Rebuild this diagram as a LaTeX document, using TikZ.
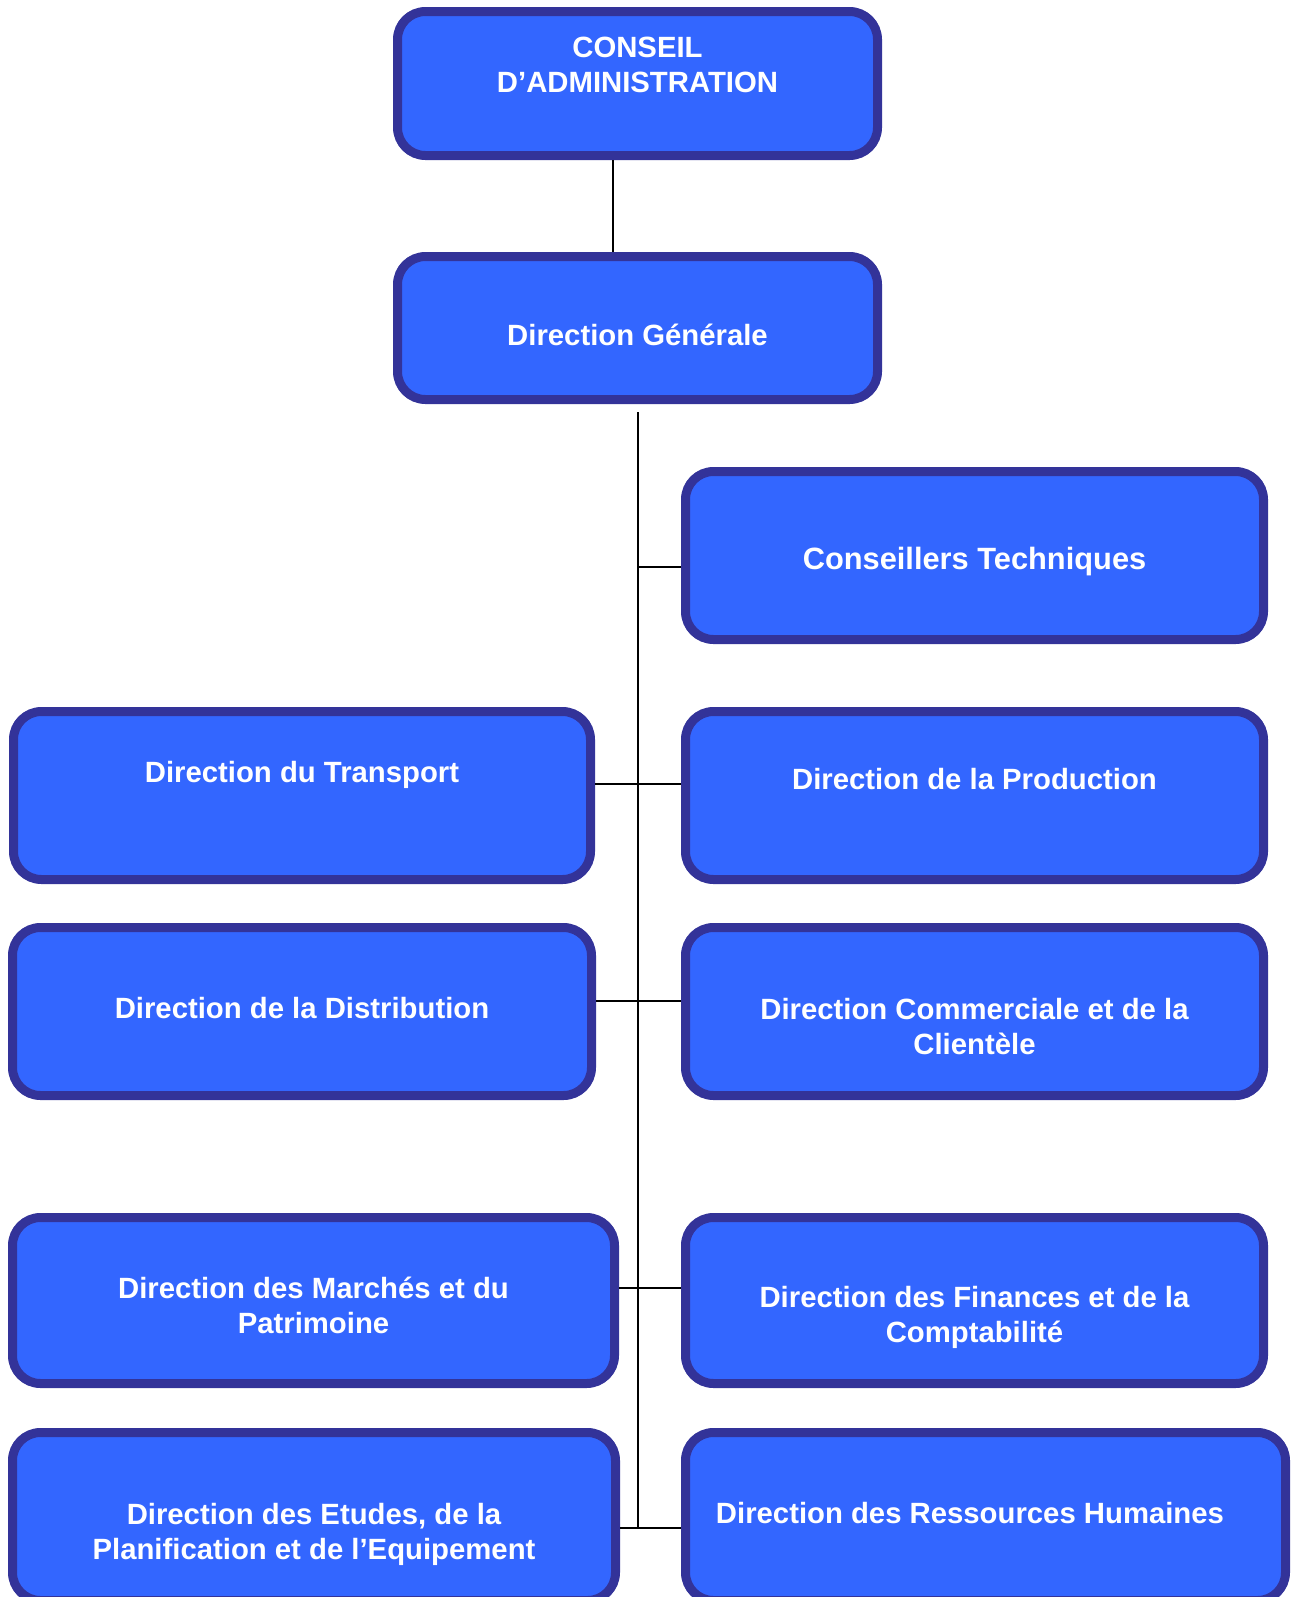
\documentclass[tikz,border=0pt]{standalone}
\usepackage{fontspec}
\setmainfont{Liberation Sans}
\definecolor{unitfill}{HTML}{3366FF}
\definecolor{unitedge}{HTML}{333399}
\tikzset{
  unit/.style={draw=unitedge, fill=unitfill, line width=4.5pt,
    rounded corners=14pt, minimum height=84pt, inner sep=0pt},
  unittext/.style={text=white, align=center, inner sep=0pt,
    font=\bfseries\fontsize{14.65}{17.5}\selectfont},
  link/.style={draw=black, line width=1pt}
}
\begin{document}
\begin{tikzpicture}[x=0.5pt, y=-0.5pt]
  \useasboundingbox (0,0) rectangle (1294,1597);
  \clip (0,0) rectangle (1294,1597);
  % boxes
  \node[unit, minimum width=240pt, minimum height=72pt] (ca) at (637.5,83.5) {};
  \node[unit, minimum width=240pt, minimum height=71.5pt] (dg) at (637.5,328) {};
  \node[unit, minimum width=289pt] (ct) at (974.5,555.5) {};
  \node[unit, minimum width=288.5pt] (tr) at (302,795.5) {};
  \node[unit, minimum width=289pt] (pr) at (974.5,795.5) {};
  \node[unit, minimum width=289.5pt] (di) at (302,1011.5) {};
  \node[unit, minimum width=289pt] (cc) at (974.5,1011.5) {};
  \node[unit, minimum width=301pt, minimum height=83pt] (ma) at (313.5,1300.5) {};
  \node[unit, minimum width=289pt, minimum height=83pt] (fi) at (974.5,1300.5) {};
  \node[unit, minimum width=301.5pt] (et) at (314,1516.5) {};
  \node[unit, minimum width=300pt] (rh) at (985.5,1516.5) {};
  % texts
  \node[unittext] (ca-t) at ([yshift=9.25pt]ca.center) {CONSEIL\\D’ADMINISTRATION};
  \node[unittext] (dg-t) at ([yshift=-3.25pt]dg.center) {Direction Générale};
  \node[unittext, font=\bfseries\fontsize{15.4}{18}\selectfont] (ct-t) at ([yshift=-3pt]ct.center) {Conseillers Techniques};
  \node[unittext] (tr-t) at ([yshift=10.5pt]tr.center) {Direction du Transport};
  \node[unittext] (pr-t) at ([yshift=8.25pt]pr.center) {Direction de la Production};
  \node[unittext] (di-t) at ([yshift=1.5pt]di.center) {Direction de la Distribution};
  \node[unittext] (cc-t) at ([yshift=-7.5pt]cc.center) {Direction Commerciale et de la\\Clientèle};
  \node[unittext] (ma-t) at ([yshift=-2.5pt]ma.center) {Direction des Marchés et du\\Patrimoine};
  \node[unittext] (fi-t) at ([yshift=-8.25pt]fi.center) {Direction des Finances et de la\\Comptabilité};
  \node[unittext] (et-t) at ([yshift=-9pt]et.center) {Direction des Etudes, de la\\Planification et de l’Equipement};
  \node[unittext] (rh-t) at ([xshift=-7.75pt, yshift=1.75pt]rh.center) {Direction des Ressources Humaines};
  % links
  \coordinate (top) at (638,412);
  \coordinate (bot) at (638,1528);
  \draw[link] ([xshift=-12.25pt]ca.south) -- ([xshift=-12.25pt]dg.north);
  \draw[link] (top) -- (bot);
  \draw[link] ([yshift=-5.75pt]ct.west) -- +(-43,0);
  \draw[link] ([yshift=5.75pt]tr.east) -- ([yshift=5.75pt]pr.west);
  \draw[link] ([yshift=5.25pt]di.east) -- ([yshift=5.25pt]cc.west);
  \draw[link] ([yshift=6.25pt]ma.east) -- ([yshift=6.25pt]fi.west);
  \draw[link] ([yshift=-5.75pt]et.east) -- ([yshift=-5.75pt]rh.west);
\end{tikzpicture}
\end{document}
